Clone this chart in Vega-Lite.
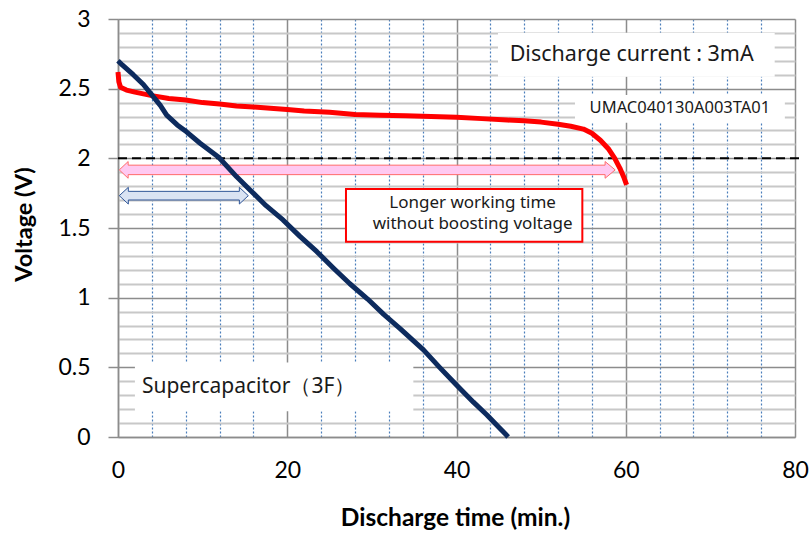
{
  "$schema": "https://vega.github.io/schema/vega-lite/v6.json",
  "width": 677,
  "height": 418,
  "autosize": {"type": "none"},
  "padding": {"left": 118, "top": 19, "right": 17, "bottom": 97},
  "background": "white",
  "config": {"view": {"stroke": null}},
  "datasets": {
    "curves": [
      {"series": "UMAC", "t": 0, "v": 2.62},
      {"series": "UMAC", "t": 0.1, "v": 2.55},
      {"series": "UMAC", "t": 0.3, "v": 2.51},
      {"series": "UMAC", "t": 1, "v": 2.49},
      {"series": "UMAC", "t": 2, "v": 2.475},
      {"series": "UMAC", "t": 4, "v": 2.45},
      {"series": "UMAC", "t": 6, "v": 2.43},
      {"series": "UMAC", "t": 8, "v": 2.418},
      {"series": "UMAC", "t": 10, "v": 2.4},
      {"series": "UMAC", "t": 12, "v": 2.39},
      {"series": "UMAC", "t": 14, "v": 2.375},
      {"series": "UMAC", "t": 16, "v": 2.368},
      {"series": "UMAC", "t": 18, "v": 2.36},
      {"series": "UMAC", "t": 20, "v": 2.35},
      {"series": "UMAC", "t": 22, "v": 2.34},
      {"series": "UMAC", "t": 25, "v": 2.33},
      {"series": "UMAC", "t": 28, "v": 2.315},
      {"series": "UMAC", "t": 31, "v": 2.31},
      {"series": "UMAC", "t": 34, "v": 2.305},
      {"series": "UMAC", "t": 37, "v": 2.3},
      {"series": "UMAC", "t": 40, "v": 2.295},
      {"series": "UMAC", "t": 43, "v": 2.285},
      {"series": "UMAC", "t": 46, "v": 2.275},
      {"series": "UMAC", "t": 48, "v": 2.27},
      {"series": "UMAC", "t": 50, "v": 2.26},
      {"series": "UMAC", "t": 52, "v": 2.245},
      {"series": "UMAC", "t": 53.5, "v": 2.23},
      {"series": "UMAC", "t": 55, "v": 2.21},
      {"series": "UMAC", "t": 56, "v": 2.18},
      {"series": "UMAC", "t": 57, "v": 2.13},
      {"series": "UMAC", "t": 58, "v": 2.065},
      {"series": "UMAC", "t": 58.7, "v": 2.0},
      {"series": "UMAC", "t": 59.3, "v": 1.93},
      {"series": "UMAC", "t": 59.8, "v": 1.86},
      {"series": "UMAC", "t": 60.1, "v": 1.81},
      {"series": "Supercap", "t": 0, "v": 2.7},
      {"series": "Supercap", "t": 0.5, "v": 2.67},
      {"series": "Supercap", "t": 1.8, "v": 2.6},
      {"series": "Supercap", "t": 3, "v": 2.53},
      {"series": "Supercap", "t": 3.8, "v": 2.47},
      {"series": "Supercap", "t": 5, "v": 2.38},
      {"series": "Supercap", "t": 5.75, "v": 2.31},
      {"series": "Supercap", "t": 7, "v": 2.24},
      {"series": "Supercap", "t": 8.1, "v": 2.19},
      {"series": "Supercap", "t": 9.7, "v": 2.108},
      {"series": "Supercap", "t": 11.9, "v": 2.008},
      {"series": "Supercap", "t": 14, "v": 1.869},
      {"series": "Supercap", "t": 15.6, "v": 1.773},
      {"series": "Supercap", "t": 17.5, "v": 1.66},
      {"series": "Supercap", "t": 19.5, "v": 1.558},
      {"series": "Supercap", "t": 21.5, "v": 1.44},
      {"series": "Supercap", "t": 23.5, "v": 1.33},
      {"series": "Supercap", "t": 25.5, "v": 1.21},
      {"series": "Supercap", "t": 27.4, "v": 1.1},
      {"series": "Supercap", "t": 29.5, "v": 0.99},
      {"series": "Supercap", "t": 31.4, "v": 0.88},
      {"series": "Supercap", "t": 33.3, "v": 0.78},
      {"series": "Supercap", "t": 36.1, "v": 0.625},
      {"series": "Supercap", "t": 38, "v": 0.5},
      {"series": "Supercap", "t": 40, "v": 0.373},
      {"series": "Supercap", "t": 42, "v": 0.25},
      {"series": "Supercap", "t": 43.6, "v": 0.158},
      {"series": "Supercap", "t": 45, "v": 0.07},
      {"series": "Supercap", "t": 45.9, "v": 0.014},
      {"series": "Supercap", "t": 46.1, "v": 0.0}
    ],
    "boxes": [
      {"box": "current", "x": 44.9, "x2": 77.6, "y": 2.585, "y2": 2.9},
      {"box": "model", "x": 54.0, "x2": 78.8, "y": 2.255, "y2": 2.455},
      {"box": "supercap", "x": 2.0, "x2": 34.9, "y": 0.185, "y2": 0.535},
      {"box": "note", "x": 26.94, "x2": 54.87, "y": 1.402, "y2": 1.78}
    ],
    "arrows": [
      {"arrow": "long", "o": 1, "t": 0.15, "v": 1.917},
      {"arrow": "long", "o": 2, "t": 1.2, "v": 1.977},
      {"arrow": "long", "o": 3, "t": 1.2, "v": 1.951},
      {"arrow": "long", "o": 4, "t": 57.56, "v": 1.951},
      {"arrow": "long", "o": 5, "t": 57.56, "v": 1.977},
      {"arrow": "long", "o": 6, "t": 58.75, "v": 1.917},
      {"arrow": "long", "o": 7, "t": 57.56, "v": 1.857},
      {"arrow": "long", "o": 8, "t": 57.56, "v": 1.883},
      {"arrow": "long", "o": 9, "t": 1.2, "v": 1.883},
      {"arrow": "long", "o": 10, "t": 1.2, "v": 1.857},
      {"arrow": "long", "o": 11, "t": 0.15, "v": 1.917},
      {"arrow": "short", "o": 1, "t": 0.15, "v": 1.732},
      {"arrow": "short", "o": 2, "t": 1.22, "v": 1.792},
      {"arrow": "short", "o": 3, "t": 1.22, "v": 1.763},
      {"arrow": "short", "o": 4, "t": 14.34, "v": 1.763},
      {"arrow": "short", "o": 5, "t": 14.34, "v": 1.792},
      {"arrow": "short", "o": 6, "t": 15.4, "v": 1.732},
      {"arrow": "short", "o": 7, "t": 14.34, "v": 1.672},
      {"arrow": "short", "o": 8, "t": 14.34, "v": 1.701},
      {"arrow": "short", "o": 9, "t": 1.22, "v": 1.701},
      {"arrow": "short", "o": 10, "t": 1.22, "v": 1.672},
      {"arrow": "short", "o": 11, "t": 0.15, "v": 1.732}
    ],
    "texts": [
      {"label": "current", "text": "Discharge current : 3mA", "t": 60.7, "v": 2.742},
      {"label": "model", "text": "UMAC040130A003TA01", "t": 66.4, "v": 2.36},
      {"label": "supercap", "text": "Supercapacitor（3F）", "t": 2.83, "v": 0.36},
      {"label": "note", "text": "Longer working time", "t": 41.9, "v": 1.681},
      {"label": "note", "text": "without boosting voltage", "t": 41.9, "v": 1.531}
    ]
  },
  "layer": [
    {
      "data": {"name": "boxes"},
      "transform": [{"filter": "datum.box !== 'note'"}],
      "mark": {"type": "rect", "fill": "white", "stroke": null},
      "encoding": {
        "x": {"field": "x", "type": "quantitative", "scale": {"domain": [0, 80], "nice": false, "zero": false},
          "axis": {
            "values": [0, 4, 8, 12, 16, 20, 24, 28, 32, 36, 40, 44, 48, 52, 56, 60, 64, 68, 72, 76, 80],
            "tickCount": 200,
            "labelExpr": "datum.value % 20 === 0 ? '' + datum.value : ''",
            "labelOverlap": false, "labelFlush": false, "labelBound": false,
            "ticks": false,
            "domainColor": "#8c8c8c", "domainWidth": 1.5,
            "grid": true,
            "gridColor": {"condition": {"test": "datum.value % 20 === 0", "value": "#8c8c8c"}, "value": "#4a7ebb"},
            "gridDash": {"condition": {"test": "datum.value % 20 === 0", "value": []}, "value": [2, 2]},
            "gridWidth": {"condition": {"test": "datum.value % 20 === 0", "value": 1.5}, "value": 1.2},
            "labelFont": "Lato", "labelFontSize": 23, "labelColor": "#000", "labelPadding": 22,
            "title": "Discharge time (min.)",
            "titleFont": "Lato", "titleFontSize": 24.5, "titleFontWeight": "bold", "titleColor": "#000",
            "titleX": 337, "titleY": 81, "titleBaseline": "middle", "titleAlign": "center"
          }},
        "x2": {"field": "x2"},
        "y": {"field": "y", "type": "quantitative", "scale": {"domain": [0, 3], "nice": false, "zero": false},
          "axis": {
            "values": [0, 0.1, 0.2, 0.3, 0.4, 0.5, 0.6, 0.7, 0.8, 0.9, 1, 1.1, 1.2, 1.3, 1.4, 1.5, 1.6, 1.7, 1.8, 1.9, 2, 2.1, 2.2, 2.3, 2.4, 2.5, 2.6, 2.7, 2.8, 2.9, 3],
            "tickCount": 200,
            "labelExpr": "abs(datum.value * 2 - round(datum.value * 2)) < 0.001 ? '' + datum.value : ''",
            "labelOverlap": false, "labelFlush": false, "labelBound": false,
            "tickSize": 10, "tickColor": "#8c8c8c", "tickWidth": 1.5,
            "tickOpacity": {"condition": {"test": "abs(datum.value * 2 - round(datum.value * 2)) < 0.001", "value": 1}, "value": 0},
            "domainColor": "#8c8c8c", "domainWidth": 1.5,
            "grid": true,
            "gridColor": {"condition": {"test": "abs(datum.value * 2 - round(datum.value * 2)) < 0.001", "value": "#8c8c8c"}, "value": "#c8c8c8"},
            "gridWidth": {"condition": {"test": "abs(datum.value * 2 - round(datum.value * 2)) < 0.001", "value": 1.5}, "value": 2},
            "labelFont": "Lato", "labelFontSize": 23, "labelColor": "#000", "labelPadding": 18,
            "title": "Voltage (V)",
            "titleFont": "Lato", "titleFontSize": 23.5, "titleFontWeight": "bold", "titleColor": "#000",
            "titleX": -94, "titleY": 205, "titleAngle": 270, "titleBaseline": "middle", "titleAlign": "center"
          }},
        "y2": {"field": "y2"}
      }
    },
    {
      "data": {"values": [{"x": 0, "x2": 80.7, "y": 2}]},
      "mark": {"type": "rule", "color": "black", "strokeWidth": 2, "strokeDash": [9, 5]},
      "encoding": {
        "x": {"field": "x", "type": "quantitative"},
        "x2": {"field": "x2"},
        "y": {"field": "y", "type": "quantitative"}
      }
    },
    {
      "data": {"name": "boxes"},
      "transform": [{"filter": "datum.box === 'note'"}],
      "mark": {"type": "rect", "fill": "white", "stroke": "#ff0000", "strokeWidth": 2},
      "encoding": {
        "x": {"field": "x", "type": "quantitative"},
        "x2": {"field": "x2"},
        "y": {"field": "y", "type": "quantitative"},
        "y2": {"field": "y2"}
      }
    },
    {
      "data": {"name": "arrows"},
      "transform": [{"filter": "datum.arrow === 'long'"}],
      "mark": {"type": "line", "fill": "#ffc9f1", "stroke": "#ff6b6b", "strokeWidth": 1, "strokeJoin": "miter"},
      "encoding": {
        "x": {"field": "t", "type": "quantitative"},
        "y": {"field": "v", "type": "quantitative"},
        "order": {"field": "o", "type": "quantitative"}
      }
    },
    {
      "data": {"name": "arrows"},
      "transform": [{"filter": "datum.arrow === 'short'"}],
      "mark": {"type": "line", "fill": "#dae3f3", "stroke": "#2f5597", "strokeWidth": 1, "strokeJoin": "miter"},
      "encoding": {
        "x": {"field": "t", "type": "quantitative"},
        "y": {"field": "v", "type": "quantitative"},
        "order": {"field": "o", "type": "quantitative"}
      }
    },
    {
      "data": {"name": "curves"},
      "transform": [{"filter": "datum.series === 'UMAC'"}],
      "mark": {"type": "line", "color": "#ff0000", "strokeWidth": 5, "strokeJoin": "round", "strokeCap": "butt"},
      "encoding": {
        "x": {"field": "t", "type": "quantitative"},
        "y": {"field": "v", "type": "quantitative"},
        "order": {"field": "t", "type": "quantitative"}
      }
    },
    {
      "data": {"name": "curves"},
      "transform": [{"filter": "datum.series === 'Supercap'"}],
      "mark": {"type": "line", "color": "#0d2b5e", "strokeWidth": 5, "strokeJoin": "round", "strokeCap": "butt"},
      "encoding": {
        "x": {"field": "t", "type": "quantitative"},
        "y": {"field": "v", "type": "quantitative"},
        "order": {"field": "t", "type": "quantitative"}
      }
    },
    {
      "data": {"name": "texts"},
      "transform": [{"filter": "datum.label === 'current'"}],
      "mark": {"type": "text", "font": "Noto Sans", "fontSize": 21.5, "color": "#1a1a1a", "align": "center", "baseline": "middle"},
      "encoding": {
        "x": {"field": "t", "type": "quantitative"},
        "y": {"field": "v", "type": "quantitative"},
        "text": {"field": "text"}
      }
    },
    {
      "data": {"name": "texts"},
      "transform": [{"filter": "datum.label === 'model'"}],
      "mark": {"type": "text", "font": "Noto Sans", "fontSize": 16.5, "color": "#1a1a1a", "align": "center", "baseline": "middle"},
      "encoding": {
        "x": {"field": "t", "type": "quantitative"},
        "y": {"field": "v", "type": "quantitative"},
        "text": {"field": "text"}
      }
    },
    {
      "data": {"name": "texts"},
      "transform": [{"filter": "datum.label === 'supercap'"}],
      "mark": {"type": "text", "font": "Noto Sans", "fontSize": 21, "color": "#1a1a1a", "align": "left", "baseline": "middle"},
      "encoding": {
        "x": {"field": "t", "type": "quantitative"},
        "y": {"field": "v", "type": "quantitative"},
        "text": {"field": "text"}
      }
    },
    {
      "data": {"name": "texts"},
      "transform": [{"filter": "datum.label === 'note'"}],
      "mark": {"type": "text", "font": "Noto Sans", "fontSize": 17, "color": "#1a1a1a", "align": "center", "baseline": "middle"},
      "encoding": {
        "x": {"field": "t", "type": "quantitative"},
        "y": {"field": "v", "type": "quantitative"},
        "text": {"field": "text"}
      }
    }
  ]
}
